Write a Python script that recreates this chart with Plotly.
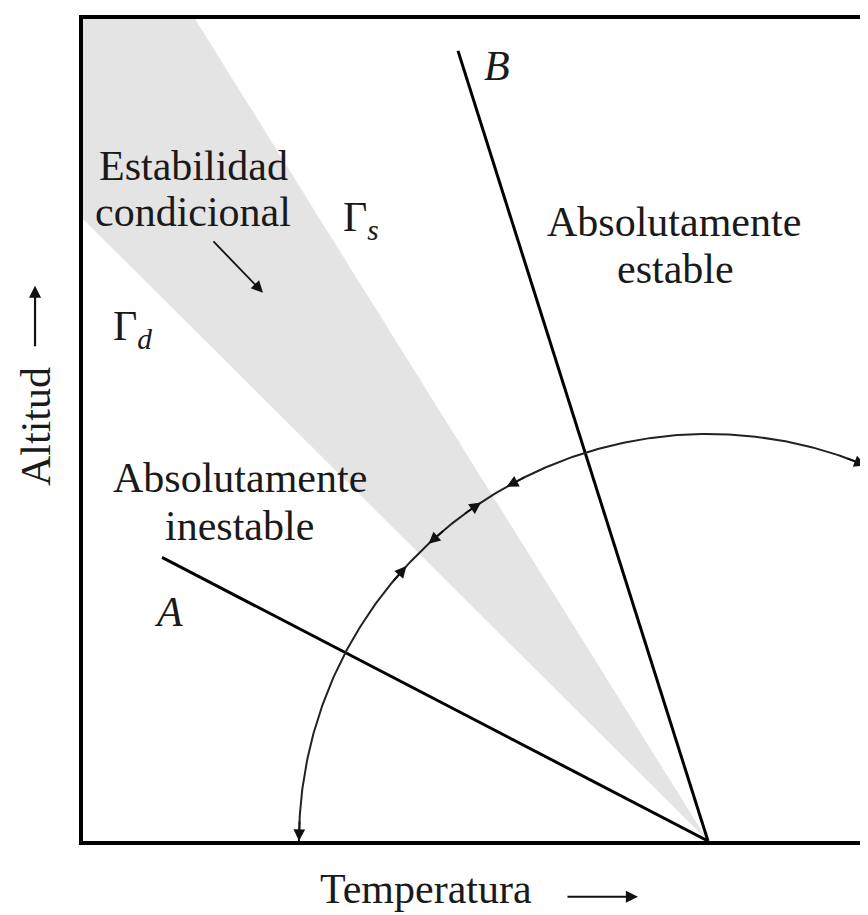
import numpy as np
import plotly.graph_objects as go

# Diagram units: 1 unit of temperature / altitude = 10 px, same in both axes
T_RANGE = [0.0, 78.5]
Z_RANGE = [0.0, 82.6]

# common origin of the lapse-rate lines (bottom of the box)
APEX = (62.5, 0.0)

# line B (stable side) and line A (unstable side), from their far ends
LINE_B_T = [62.5, 37.5]
LINE_B_Z = [0.0, 79.4]
LINE_A_T = [62.5, 7.9]
LINE_A_Z = [0.0, 28.5]

# shaded wedge between Γd and Γs (conditional stability)
SHADE_T = [62.5, 0.0, 0.0, 11.2]
SHADE_Z = [0.0, 62.5, 82.6, 82.6]

# arc of arrows around the apex
ARC_RADIUS = 40.9
ARC_FROM_DEG = 180.0
ARC_TO_DEG = 67.3
ARROW_TIP_DEG = [180.0, 137.5, 133.1, 123.7, 119.5, 67.3]
ARROW_DIR = [1, -1, 1, -1, 1, -1]  # +1 points towards larger angle

# small pointer from the "Estabilidad condicional" label into the wedge
POINTER_TAIL = (12.9, 60.4)
POINTER_TIP = (18.0, 55.1)

FONT = "Liberation Serif"
INK = "#1a1a1a"

fig = go.Figure()

fig.add_trace(go.Scatter(
    x=SHADE_T, y=SHADE_Z,
    mode="lines", fill="toself",
    fillcolor="#e4e4e4", line=dict(width=0),
    hoverinfo="skip",
))

fig.add_trace(go.Scatter(
    x=LINE_B_T, y=LINE_B_Z, mode="lines",
    line=dict(color="black", width=3), hoverinfo="skip",
))
fig.add_trace(go.Scatter(
    x=LINE_A_T, y=LINE_A_Z, mode="lines",
    line=dict(color="black", width=3), hoverinfo="skip",
))

theta = np.radians(np.linspace(ARC_FROM_DEG, ARC_TO_DEG, 240))
fig.add_trace(go.Scatter(
    x=APEX[0] + ARC_RADIUS * np.cos(theta),
    y=APEX[1] + ARC_RADIUS * np.sin(theta),
    mode="lines", line=dict(color="#222222", width=2),
    hoverinfo="skip", cliponaxis=False,
))

annotations = []

# arrowheads along the arc
for deg, d in zip(ARROW_TIP_DEG, ARROW_DIR):
    tip = np.radians(deg)
    tail = np.radians(deg - d * 3.0)
    annotations.append(dict(
        x=APEX[0] + ARC_RADIUS * np.cos(tip),
        y=APEX[1] + ARC_RADIUS * np.sin(tip),
        ax=APEX[0] + ARC_RADIUS * np.cos(tail),
        ay=APEX[1] + ARC_RADIUS * np.sin(tail),
        xref="x", yref="y", axref="x", ayref="y",
        text="", showarrow=True,
        arrowhead=2, arrowsize=1.3, arrowwidth=1.8, arrowcolor="#111111",
    ))

annotations.append(dict(
    x=POINTER_TIP[0], y=POINTER_TIP[1],
    ax=POINTER_TAIL[0], ay=POINTER_TAIL[1],
    xref="x", yref="y", axref="x", ayref="y",
    text="", showarrow=True,
    arrowhead=2, arrowsize=1.3, arrowwidth=1.8, arrowcolor="#111111",
))


def label(text, x, y, xanchor="center"):
    annotations.append(dict(
        x=x, y=y, xref="x", yref="y", text=text, showarrow=False,
        xanchor=xanchor, yanchor="middle",
        font=dict(family=FONT, size=42, color=INK),
    ))


label("Estabilidad", 11.0, 67.8)
label("condicional", 11.0, 63.2)
label("Γ<sub><i>s</i></sub>", 25.8, 62.4, xanchor="left")
label("Γ<sub><i>d</i></sub>", 2.8, 51.4, xanchor="left")
label("Absolutamente", 59.1, 62.2)
label("estable", 59.2, 57.5)
label("Absolutamente", 15.7, 36.5)
label("inestable", 15.6, 31.7)
label("<i>A</i>", 8.5, 23.0)
label("<i>B</i>", 41.4, 77.9)

# axis titles with their arrows, outside the box
annotations.append(dict(
    x=0.437, y=-0.058, xref="paper", yref="paper",
    xanchor="center", yanchor="middle",
    text="Temperatura", showarrow=False,
    font=dict(family=FONT, size=42, color=INK),
))
annotations.append(dict(
    x=0.707, y=-0.0678, xref="paper", yref="paper",
    ax=-72, ay=0, text="", showarrow=True,
    arrowhead=2, arrowsize=1.1, arrowwidth=2.2, arrowcolor="#111111",
))
annotations.append(dict(
    x=-0.0599, y=0.5048, xref="paper", yref="paper",
    xanchor="center", yanchor="middle",
    text="Altitud", textangle=-90, showarrow=False,
    font=dict(family=FONT, size=42, color=INK),
))
annotations.append(dict(
    x=-0.0611, y=0.6755, xref="paper", yref="paper",
    ax=0, ay=62, text="", showarrow=True,
    arrowhead=2, arrowsize=1.1, arrowwidth=2.2, arrowcolor="#111111",
))

# the page body adds an 8 px offset, so the margins are shifted by it
fig.update_layout(
    width=868, height=915,
    margin=dict(l=75, r=8, t=7, b=82),
    paper_bgcolor="white", plot_bgcolor="white",
    showlegend=False, hovermode=False,
    annotations=annotations,
    xaxis=dict(
        range=T_RANGE, showgrid=False, zeroline=False,
        showticklabels=False, ticks="",
        showline=True, linecolor="black", linewidth=4, mirror=True,
    ),
    yaxis=dict(
        range=Z_RANGE, showgrid=False, zeroline=False,
        showticklabels=False, ticks="",
        showline=True, linecolor="black", linewidth=4, mirror=False,
    ),
)

fig.write_html("out.html")
